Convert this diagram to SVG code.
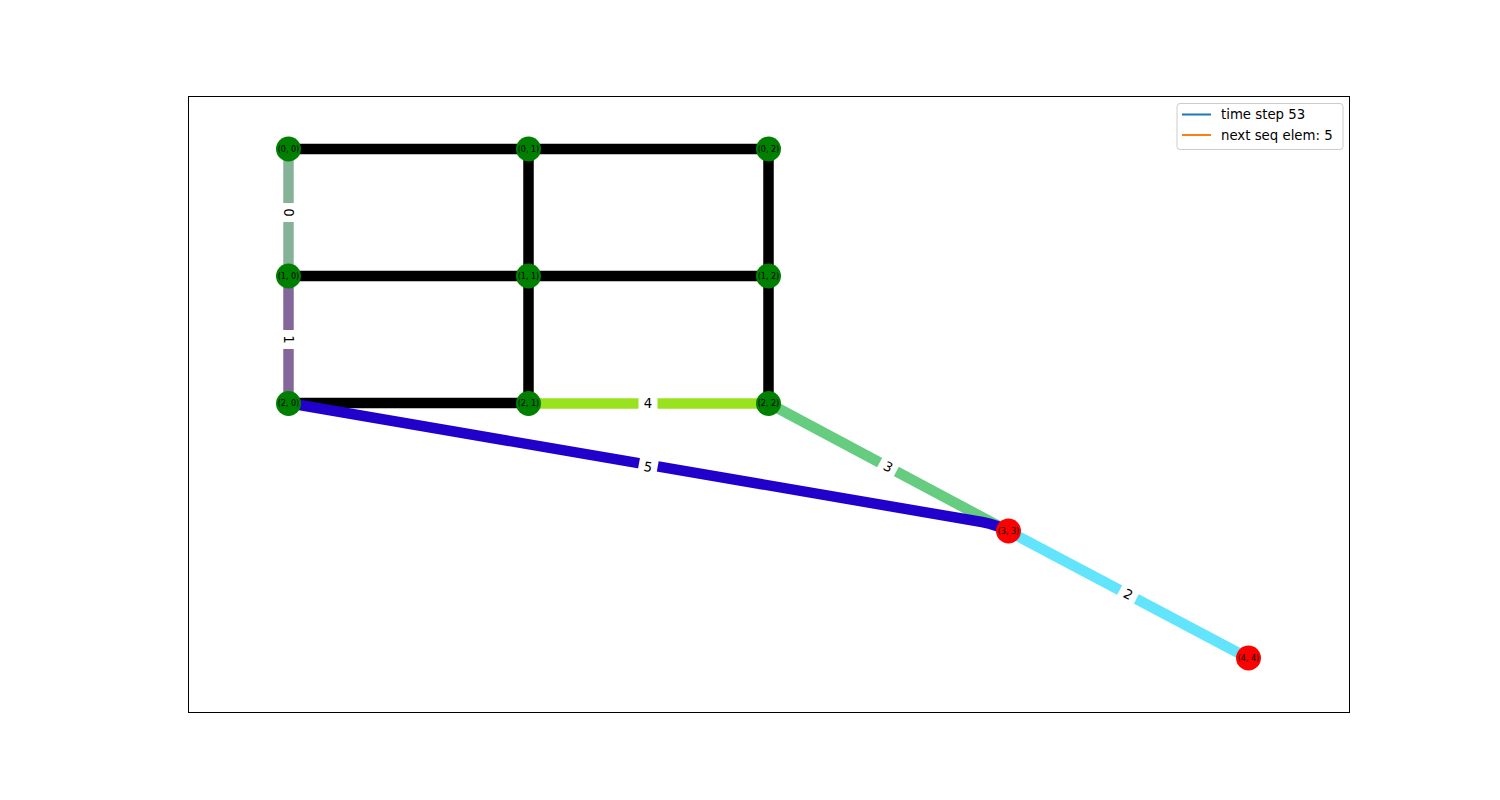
<svg xmlns="http://www.w3.org/2000/svg" width="1500" height="800" viewBox="0 0 1500 800">
<style>
.e{fill:none;stroke-width:10.5;stroke-linecap:butt}
.k{stroke:#000}
.n circle{stroke:none}
.g{fill:#008000}
.r{fill:#ff0000}
.nl{font-family:"DejaVu Sans",sans-serif;font-size:8px;fill:#000;text-anchor:middle;dominant-baseline:central}
.el{font-family:"DejaVu Sans",sans-serif;font-size:13.3px;fill:#000;text-anchor:middle;dominant-baseline:central}
.lg{font-family:"DejaVu Sans",sans-serif;font-size:13.3px;fill:#000;dominant-baseline:central}
</style>
<rect width="1500" height="800" fill="#fff"/>
<rect x="188.5" y="96.5" width="1161" height="616" fill="none" stroke="#000" stroke-width="1"/>
<g id="connectors">
<line class="e k" x1="288" y1="149" x2="528" y2="149"/>
<line class="e k" x1="528" y1="149" x2="768" y2="149"/>
<line class="e k" x1="288" y1="276" x2="528" y2="276"/>
<line class="e k" x1="528" y1="276" x2="768" y2="276"/>
<line class="e k" x1="288" y1="403" x2="528" y2="403"/>
<line class="e k" x1="528.5" y1="149" x2="528.5" y2="276"/>
<line class="e k" x1="528.5" y1="276" x2="528.5" y2="403"/>
<line class="e k" x1="768.5" y1="149" x2="768.5" y2="276"/>
<line class="e k" x1="768.5" y1="276" x2="768.5" y2="403"/>
<line class="e" stroke="#86b398" x1="288.5" y1="149" x2="288.5" y2="276"/>
<line class="e" stroke="#83679b" x1="288.5" y1="276" x2="288.5" y2="403"/>
<line class="e" stroke="#98e21e" x1="528" y1="403.5" x2="768" y2="403.5"/>
<line class="e" stroke="#66cc80" x1="768" y1="403" x2="1008" y2="531"/>
<line class="e" stroke="#62e4fc" x1="1008" y1="531" x2="1248" y2="658"/>
<path class="e" stroke="#2200cc" stroke-linejoin="round" d="M288,403 L982,522 Q997,525 1008,531"/>
<g id="edge-labels">
<g transform="translate(288.5,212.5) rotate(90)"><rect x="-9.5" y="-9.5" width="19" height="19" fill="#fff"/><text class="el">0</text></g>
<g transform="translate(288.5,339.5) rotate(90)"><rect x="-9.5" y="-9.5" width="19" height="19" fill="#fff"/><text class="el">1</text></g>
<g transform="translate(648,403.5)"><rect x="-9.5" y="-9.5" width="19" height="19" fill="#fff"/><text class="el">4</text></g>
<g transform="translate(888,467) rotate(28)"><rect x="-9.5" y="-9.5" width="19" height="19" fill="#fff"/><text class="el">3</text></g>
<g transform="translate(1128,594.5) rotate(28)"><rect x="-9.5" y="-9.5" width="19" height="19" fill="#fff"/><text class="el">2</text></g>
<g transform="translate(648,467) rotate(10.1)"><rect x="-9.5" y="-9.5" width="19" height="19" fill="#fff"/><text class="el">5</text></g>
</g>
</g>
<g id="n00" class="n"><circle class="g" cx="288.5" cy="149" r="12.5"/><text class="nl" x="288.5" y="149">(0, 0)</text></g>
<g id="n01" class="n"><circle class="g" cx="528.5" cy="149" r="12.5"/><text class="nl" x="528.5" y="149">(0, 1)</text></g>
<g id="n02" class="n"><circle class="g" cx="768.5" cy="149" r="12.5"/><text class="nl" x="768.5" y="149">(0, 2)</text></g>
<g id="n10" class="n"><circle class="g" cx="288.5" cy="276" r="12.5"/><text class="nl" x="288.5" y="276">(1, 0)</text></g>
<g id="n11" class="n"><circle class="g" cx="528.5" cy="276" r="12.5"/><text class="nl" x="528.5" y="276">(1, 1)</text></g>
<g id="n12" class="n"><circle class="g" cx="768.5" cy="276" r="12.5"/><text class="nl" x="768.5" y="276">(1, 2)</text></g>
<g id="n20" class="n"><circle class="g" cx="288.5" cy="403.5" r="12.5"/><text class="nl" x="288.5" y="403.5">(2, 0)</text></g>
<g id="n21" class="n"><circle class="g" cx="528.5" cy="403.5" r="12.5"/><text class="nl" x="528.5" y="403.5">(2, 1)</text></g>
<g id="n22" class="n"><circle class="g" cx="768.5" cy="403.5" r="12.5"/><text class="nl" x="768.5" y="403.5">(2, 2)</text></g>
<g id="n33" class="n"><circle class="r" cx="1008.5" cy="531" r="12.5"/><text class="nl" x="1008.5" y="531">(3, 3)</text></g>
<g id="n44" class="n"><circle class="r" cx="1248.5" cy="658" r="12.5"/><text class="nl" x="1248.5" y="658">(4, 4)</text></g>
<g id="legend">
<rect x="1177" y="103.5" width="166" height="46" rx="3" fill="#fff" fill-opacity="0.8" stroke="#cccccc" stroke-width="1"/>
<line x1="1182" y1="114.5" x2="1211" y2="114.5" stroke="#1f77b4" stroke-width="2"/>
<line x1="1182" y1="135" x2="1211" y2="135" stroke="#ff7f0e" stroke-width="2"/>
<text class="lg" x="1221" y="114.5">time step 53</text>
<text class="lg" x="1221" y="135">next seq elem: 5</text>
</g>
</svg>
